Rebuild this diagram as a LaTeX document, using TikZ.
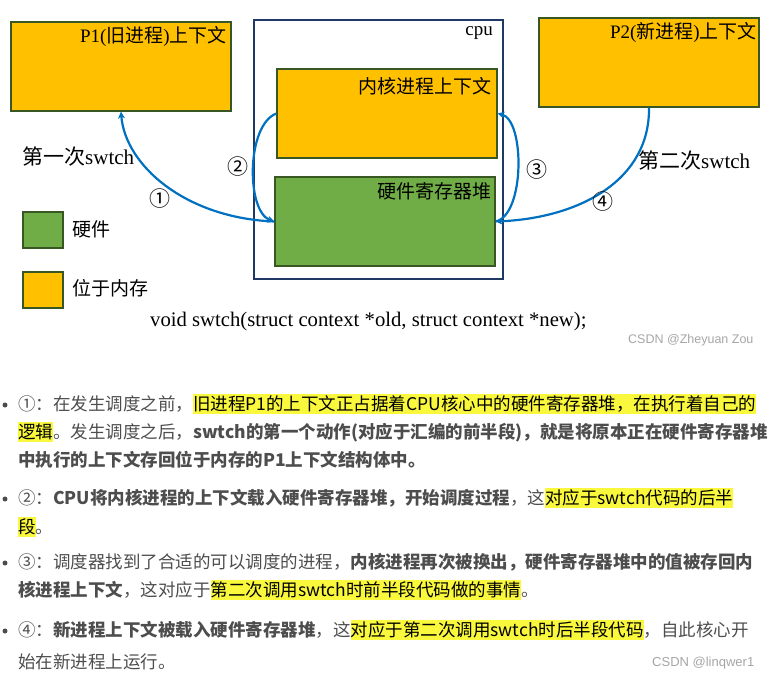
\documentclass[tikz,border=0pt]{standalone}
\usepackage{fontspec}
\setmainfont{Liberation Serif}
\newfontfamily\cjk{Noto Sans CJK SC}
\newfontfamily\sanslat{Liberation Sans}
\usetikzlibrary{arrows.meta}

\definecolor{memfill}{RGB}{255,192,0}
\definecolor{hwfill}{RGB}{112,173,71}
\definecolor{boxedge}{RGB}{56,87,35}
\definecolor{cpuedge}{RGB}{32,56,100}
\definecolor{flowblue}{RGB}{0,112,192}
\definecolor{txtgray}{RGB}{77,77,77}
\definecolor{hlyellow}{RGB}{250,248,60}
\definecolor{markgray}{RGB}{165,165,165}

% highlighted run of text
\newcommand{\hl}[1]{{\setlength{\fboxsep}{0pt}\colorbox{hlyellow}{\rule[-3pt]{0pt}{19.5pt}\color{black}#1}}}

\tikzset{
  membox/.style={draw=boxedge, fill=memfill, line width=1.2pt, inner sep=0pt,
    minimum width=220pt, minimum height=89pt},
  hwbox/.style={membox, fill=hwfill},
  boxlbl/.style={anchor=east, inner sep=0pt, font=\fontsize{19}{22}\selectfont},
  sidelbl/.style={anchor=west, inner sep=0pt, font=\fontsize{21}{24}\selectfont},
  flow/.style={flowblue, line width=2.2pt, -{Stealth[length=7pt,width=7pt]}},
  num/.style={inner sep=0pt, font=\cjk\fontsize{21}{23}\selectfont},
  para/.style={anchor=base west, inner sep=0pt, text=txtgray,
    font=\cjk\fontsize{17.5}{20}\selectfont},
  dot/.style={circle, fill=txtgray, inner sep=0pt, minimum size=5pt},
  wmark/.style={anchor=west, inner sep=0pt, text=markgray,
    font=\sanslat\fontsize{12.5}{14}\selectfont}
}

\begin{document}
\begin{tikzpicture}[x=1pt,y=-1pt]
  \useasboundingbox (0,0) rectangle (769,680);

  % boxes
  \node[membox] (p1) at (121,66.5) {};
  \node[membox] (p2) at (649,62.5) {};
  \node[draw=cpuedge, line width=1.4pt, minimum width=249pt, minimum height=259pt,
    inner sep=0pt] (cpu) at (378.5,149.5) {};
  \node[membox] (kern) at (387,113.5) {};
  \node[hwbox] (hw) at (385,221.5) {};

  \node[boxlbl] (p1lbl) at (227,36) {P1({\cjk 旧进程}){\cjk 上下文}};
  \node[boxlbl] (p2lbl) at (757,32) {P2({\cjk 新进程}){\cjk 上下文}};
  \node[boxlbl] (cpulbl) at (493,33) {cpu};
  \node[boxlbl] (kernlbl) at (492,86) {\cjk 内核进程上下文};
  \node[boxlbl] (hwlbl) at (492,191) {\cjk 硬件寄存器堆};

  \node[sidelbl] (sw1) at (22,157) {{\cjk 第一次}swtch};
  \node[sidelbl] (sw2) at (638,161) {{\cjk 第二次}swtch};

  % switch flows
  \draw[flow] (hw.west) .. controls (185,218) and (125,165) .. (p1.south);
  \draw[flow] (kern.west) .. controls (246,125) and (246,212) .. (hw.west);
  \draw[flow] (hw.east) .. controls (525,215) and (525,120) .. (kern.east);
  \draw[flow] (p2.south) .. controls (650,180) and (580,218) .. (hw.east);

  \node[num] (n1) at (160,199) {①};
  \node[num] (n2) at (238,167) {②};
  \node[num] (n3) at (537,170) {③};
  \node[num] (n4) at (603,202) {④};

  % legend
  \node[hwbox, minimum width=40pt, minimum height=36pt] (keyhw) at (43,230) {};
  \node[anchor=west, inner sep=0pt, font=\cjk\fontsize{19}{22}\selectfont] (keyhwlbl) at (72,229) {硬件};
  \node[membox, minimum width=40pt, minimum height=36pt] (keymem) at (43,290) {};
  \node[anchor=west, inner sep=0pt, font=\cjk\fontsize{19}{22}\selectfont] (keymemlbl) at (72,288) {位于内存};

  \node[anchor=west, inner sep=0pt, font=\fontsize{20.7}{24}\selectfont] (proto) at (150,322)
    {void swtch(struct context *old, struct context *new);};
  \node[wmark] (mark1) at (628,340) {CSDN @Zheyuan Zou};

  % notes
  \node[dot] (d1) at (5,405) {};
  \node[para] (b1a) at (18,410.5) {①：在发生调度之前，\hl{旧进程P1的上下文正占据着CPU核心中的硬件寄存器堆，在执行着自己的}};
  \node[para] (b1b) at (18,438.5) {\hl{逻辑}。发生调度之后，\textbf{swtch的第一个动作(对应于汇编的前半段)，就是将原本正在硬件寄存器堆}};
  \node[para] (b1c) at (18,466.5) {\textbf{中执行的上下文存回位于内存的P1上下文结构体中。}};

  \node[dot] (d2) at (5,499) {};
  \node[para] (b2a) at (18,504.5) {②：\textbf{CPU将内核进程的上下文载入硬件寄存器堆，开始调度过程}，这\hl{对应于swtch代码的后半}};
  \node[para] (b2b) at (18,533.5) {\hl{段}。};

  \node[dot] (d3) at (5,563) {};
  \node[para] (b3a) at (18,568.5) {③：调度器找到了合适的可以调度的进程，\textbf{内核进程再次被换出，硬件寄存器堆中的值被存回内}};
  \node[para] (b3b) at (18,596.5) {\textbf{核进程上下文}，这对应于\hl{第二次调用swtch时前半段代码做的事情}。};

  \node[dot] (d4) at (5,631) {};
  \node[para] (b4a) at (18,636.5) {④：\textbf{新进程上下文被载入硬件寄存器堆}，这\hl{对应于第二次调用swtch时后半段代码}，自此核心开};
  \node[para] (b4b) at (18,668.5) {始在新进程上运行。};
  \node[wmark, font=\sanslat\fontsize{13}{15}\selectfont] (mark2) at (652,663) {CSDN @linqwer1};
\end{tikzpicture}
\end{document}
